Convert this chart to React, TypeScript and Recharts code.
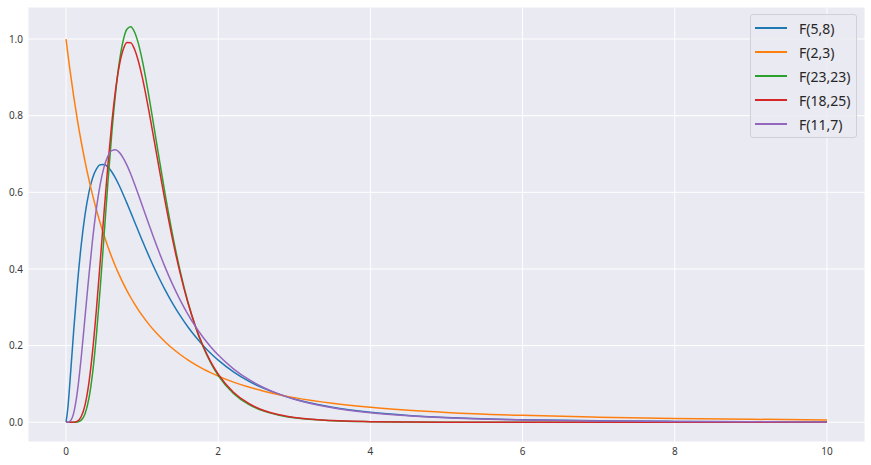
import { LineChart, Line, XAxis, YAxis, CartesianGrid } from "recharts";

const X_VALUES = [
  0, 0.025, 0.05, 0.1, 0.15, 0.2, 0.25, 0.3, 0.35, 0.4, 0.45, 0.5, 0.55, 0.6, 0.65, 0.7, 0.75, 0.8,
  0.85, 0.9, 0.95, 1.0, 1.1, 1.2, 1.3, 1.4, 1.5, 1.6, 1.7, 1.8, 1.9, 2.0, 2.2, 2.4, 2.6, 2.8, 3.0,
  3.5, 4.0, 4.5, 5.0, 6, 7, 8, 9, 10,
];

const F_5_8 = [
  0, 0.0398, 0.102, 0.2377, 0.3616, 0.4636, 0.5423, 0.5994, 0.638, 0.6612, 0.672, 0.6729, 0.6662,
  0.6537, 0.6369, 0.6171, 0.5951, 0.5717, 0.5476, 0.5232, 0.4989, 0.4749, 0.4287, 0.3856, 0.3461,
  0.3103, 0.2781, 0.2493, 0.2235, 0.2005, 0.1801, 0.162, 0.1315, 0.1074, 0.0882, 0.0728, 0.0605,
  0.039, 0.0259, 0.0177, 0.0125, 0.0065, 0.0037, 0.0022, 0.0014, 0.0009,
];

const F_2_3 = [
  1.0, 0.9595, 0.9213, 0.851, 0.788, 0.7313, 0.6802, 0.6339, 0.592, 0.5538, 0.519, 0.4871, 0.458,
  0.4312, 0.4066, 0.3839, 0.3629, 0.3435, 0.3255, 0.3088, 0.2933, 0.2789, 0.2528, 0.2301, 0.21,
  0.1924, 0.1768, 0.1629, 0.1504, 0.1393, 0.1293, 0.1202, 0.1047, 0.0918, 0.081, 0.0719, 0.0642,
  0.0493, 0.0389, 0.0313, 0.0256, 0.0179, 0.0131, 0.0099, 0.0077, 0.0061,
];

const F_23_23 = [
  0, 0, 0, 0, 0.0007, 0.0055, 0.0224, 0.0615, 0.1302, 0.2293, 0.3524, 0.4884, 0.625, 0.7508,
  0.8574, 0.9395, 0.9954, 1.0254, 1.032, 1.0184, 0.9886, 0.9463, 0.8381, 0.7168, 0.5976, 0.4889,
  0.3945, 0.3152, 0.2501, 0.1975, 0.1554, 0.122, 0.0753, 0.0466, 0.029, 0.0182, 0.0115, 0.0039,
  0.0014, 0.0005, 0.0002, 0, 0, 0, 0, 0,
];

const F_18_25 = [
  0, 0, 0, 0.0002, 0.003, 0.0148, 0.0454, 0.1023, 0.1875, 0.2966, 0.4207, 0.549, 0.6711, 0.7786,
  0.8661, 0.9308, 0.9721, 0.9912, 0.9906, 0.9733, 0.9426, 0.9017, 0.8004, 0.6883, 0.5781, 0.477,
  0.3884, 0.3131, 0.2507, 0.1996, 0.1584, 0.1254, 0.0783, 0.049, 0.0307, 0.0194, 0.0124, 0.0042,
  0.0015, 0.0006, 0.0002, 0, 0, 0, 0, 0,
];

const F_11_7 = [
  0, 0.0001, 0.002, 0.0237, 0.0813, 0.1703, 0.2756, 0.382, 0.4787, 0.5594, 0.6219, 0.6664, 0.6946,
  0.7086, 0.711, 0.7042, 0.6901, 0.6708, 0.6476, 0.6219, 0.5945, 0.5664, 0.51, 0.4558, 0.4055,
  0.3597, 0.3187, 0.2823, 0.2502, 0.2219, 0.1971, 0.1752, 0.1394, 0.1116, 0.0901, 0.0733, 0.0601,
  0.0377, 0.0247, 0.0167, 0.0116, 0.0061, 0.0034, 0.0021, 0.0013, 0.0009,
];

const SERIES = [
  { key: "f58", name: "F(5,8)", color: "#1f77b4", values: F_5_8 },
  { key: "f23", name: "F(2,3)", color: "#ff7f0e", values: F_2_3 },
  { key: "f2323", name: "F(23,23)", color: "#2ca02c", values: F_23_23 },
  { key: "f1825", name: "F(18,25)", color: "#d62728", values: F_18_25 },
  { key: "f117", name: "F(11,7)", color: "#9467bd", values: F_11_7 },
];

const X_TICKS = [0, 2, 4, 6, 8, 10];
const Y_TICKS = [0, 0.2, 0.4, 0.6, 0.8, 1.0];

const data = X_VALUES.map((x, i) => {
  const row: Record<string, number> = { x };
  SERIES.forEach((s) => {
    row[s.key] = s.values[i];
  });
  return row;
});

const FONT = "'Noto Sans', 'Noto Sans CJK KR', sans-serif";
const tickStyle = { fill: "#3a3a3a", fontSize: 10, fontFamily: FONT };

export default function App() {
  return (
    <div style={{ position: "absolute", left: 0, top: 0, width: 871, height: 465, fontFamily: FONT }}>
      <LineChart width={871} height={465} data={data} margin={{ top: 7, right: 6, bottom: 0, left: 0 }}>
        <CartesianGrid stroke="#ffffff" strokeWidth={1} fill="#EAEAF2" />
        <XAxis
          dataKey="x"
          type="number"
          domain={[-0.5, 10.5]}
          ticks={X_TICKS}
          axisLine={false}
          tickLine={false}
          tickSize={3}
          tickMargin={3}
          height={23}
          tick={tickStyle}
          allowDataOverflow
        />
        <YAxis
          type="number"
          domain={[-0.0516, 1.0836]}
          ticks={Y_TICKS}
          tickFormatter={(v: number) => v.toFixed(1)}
          axisLine={false}
          tickLine={false}
          tickSize={3}
          tickMargin={2}
          width={28}
          tick={tickStyle}
          allowDataOverflow
        />
        {SERIES.map((s) => (
          <Line
            key={s.key}
            dataKey={s.key}
            name={s.name}
            type="monotone"
            stroke={s.color}
            strokeWidth={1.5}
            dot={false}
            isAnimationActive={false}
          />
        ))}
      </LineChart>

      {/* legend box, upper right like matplotlib's "best" spot here */}
      <div
        style={{
          position: "absolute",
          left: 750,
          top: 14,
          width: 105,
          padding: "1px 0",
          background: "rgba(234,234,242,0.85)",
          border: "1px solid #d0d0d8",
          borderRadius: 3,
        }}
      >
        {SERIES.map((s) => (
          <div key={s.key} style={{ display: "flex", alignItems: "center", height: 24 }}>
            <div style={{ width: 32, height: 2, background: s.color, marginLeft: 4, marginRight: 12 }} />
            <span style={{ fontSize: 14, color: "#262626", fontFamily: FONT }}>{s.name}</span>
          </div>
        ))}
      </div>
    </div>
  );
}
